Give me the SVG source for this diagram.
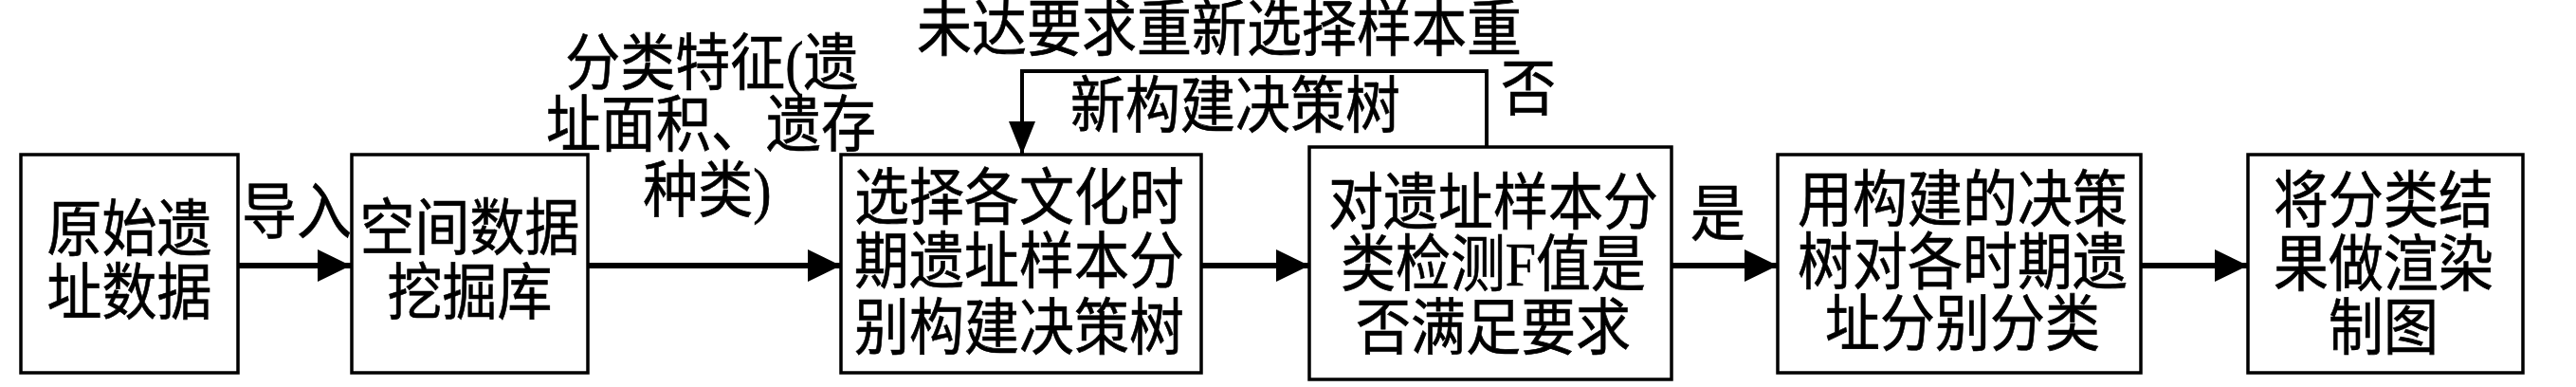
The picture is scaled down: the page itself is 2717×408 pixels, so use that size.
<svg xmlns="http://www.w3.org/2000/svg" width="2717" height="408" viewBox="0 0 2717 408">
<style>
  .box { fill: #fff; stroke: #000; stroke-width: 3.5; }
  .t { font-family: "Liberation Serif", "Noto Sans CJK SC", serif; font-size: 58px; fill: #000; text-anchor: middle; stroke: #000; stroke-width: 0.6; }
  .conn { stroke: #000; stroke-width: 6; fill: none; }
  .fb { stroke: #000; stroke-width: 4; fill: none; }
</style>
<defs>
  <marker id="ah" markerUnits="userSpaceOnUse" markerWidth="36" markerHeight="36" refX="35" refY="17" orient="auto">
    <path d="M0,0 L35,17 L0,34 z" fill="#000"/>
  </marker>
  <marker id="ah2" markerUnits="userSpaceOnUse" markerWidth="36" markerHeight="30" refX="35" refY="14" orient="auto">
    <path d="M0,0 L35,14 L0,28 z" fill="#000"/>
  </marker>
</defs>
<rect width="2717" height="408" fill="#fff"/>

<g id="connectors">
  <line class="conn" x1="251" y1="280" x2="370" y2="280" marker-end="url(#ah)"/>
  <line class="conn" x1="620" y1="280" x2="887" y2="280" marker-end="url(#ah)"/>
  <line class="conn" x1="1267" y1="280" x2="1381" y2="280" marker-end="url(#ah)"/>
  <line class="conn" x1="1763" y1="280" x2="1875" y2="280" marker-end="url(#ah)"/>
  <line class="conn" x1="2258" y1="280" x2="2371" y2="280" marker-end="url(#ah)"/>
  <polyline class="fb" points="1568,155 1568,75 1078,75 1078,163" marker-end="url(#ah2)"/>
  <text class="t" transform="translate(0,246) scale(1,1.12)" x="313" y="0">导入</text>
  <text class="t" transform="translate(0,89) scale(1,1.12)" x="751" y="0">分类特征(遗</text>
  <text class="t" transform="translate(0,154) scale(1,1.12)" x="750" y="0">址面积、遗存</text>
  <text class="t" transform="translate(0,223) scale(1,1.12)" x="746" y="0">种类)</text>
  <text class="t" transform="translate(0,53) scale(1,1.12)" x="1286" y="0">未达要求重新选择样本重</text>
  <text class="t" transform="translate(0,134) scale(1,1.12)" x="1303" y="0">新构建决策树</text>
  <text class="t" transform="translate(0,116) scale(1,1.12)" x="1612" y="0">否</text>
  <text class="t" transform="translate(0,248) scale(1,1.12)" x="1812" y="0">是</text>
</g>

<g id="n1">
  <rect class="box" x="22" y="163" width="229" height="230"/>
  <text class="t" transform="translate(0,264) scale(1,1.12)" x="136.5" y="0">原始遗</text>
  <text class="t" transform="translate(0,331) scale(1,1.12)" x="136.5" y="0">址数据</text>
</g>
<g id="n2">
  <rect class="box" x="371" y="163" width="249" height="230"/>
  <text class="t" transform="translate(0,263) scale(1,1.12)" x="495.5" y="0">空间数据</text>
  <text class="t" transform="translate(0,331) scale(1,1.12)" x="495.5" y="0">挖掘库</text>
</g>
<g id="n3">
  <rect class="box" x="887" y="163" width="380" height="230"/>
  <text class="t" transform="translate(0,231) scale(1,1.12)" x="1075" y="0">选择各文化时</text>
  <text class="t" transform="translate(0,298) scale(1,1.12)" x="1075" y="0">期遗址样本分</text>
  <text class="t" transform="translate(0,368) scale(1,1.12)" x="1075" y="0">别构建决策树</text>
</g>
<g id="n4">
  <rect class="box" x="1381" y="155" width="382" height="245"/>
  <text class="t" transform="translate(0,236) scale(1,1.12)" x="1575" y="0">对遗址样本分</text>
  <text class="t" transform="translate(0,301) scale(1,1.12)" x="1575" y="0">类检测F值是</text>
  <text class="t" transform="translate(0,368) scale(1,1.12)" x="1575" y="0">否满足要求</text>
</g>
<g id="n5">
  <rect class="box" x="1875" y="163" width="383" height="230"/>
  <text class="t" transform="translate(0,233) scale(1,1.12)" x="2070" y="0">用构建的决策</text>
  <text class="t" transform="translate(0,299) scale(1,1.12)" x="2070" y="0">树对各时期遗</text>
  <text class="t" transform="translate(0,364) scale(1,1.12)" x="2070" y="0">址分别分类</text>
</g>
<g id="n6">
  <rect class="box" x="2371" y="163" width="290" height="230"/>
  <text class="t" transform="translate(0,234) scale(1,1.12)" x="2514" y="0">将分类结</text>
  <text class="t" transform="translate(0,301) scale(1,1.12)" x="2514" y="0">果做渲染</text>
  <text class="t" transform="translate(0,368) scale(1,1.12)" x="2514" y="0">制图</text>
</g>
</svg>
